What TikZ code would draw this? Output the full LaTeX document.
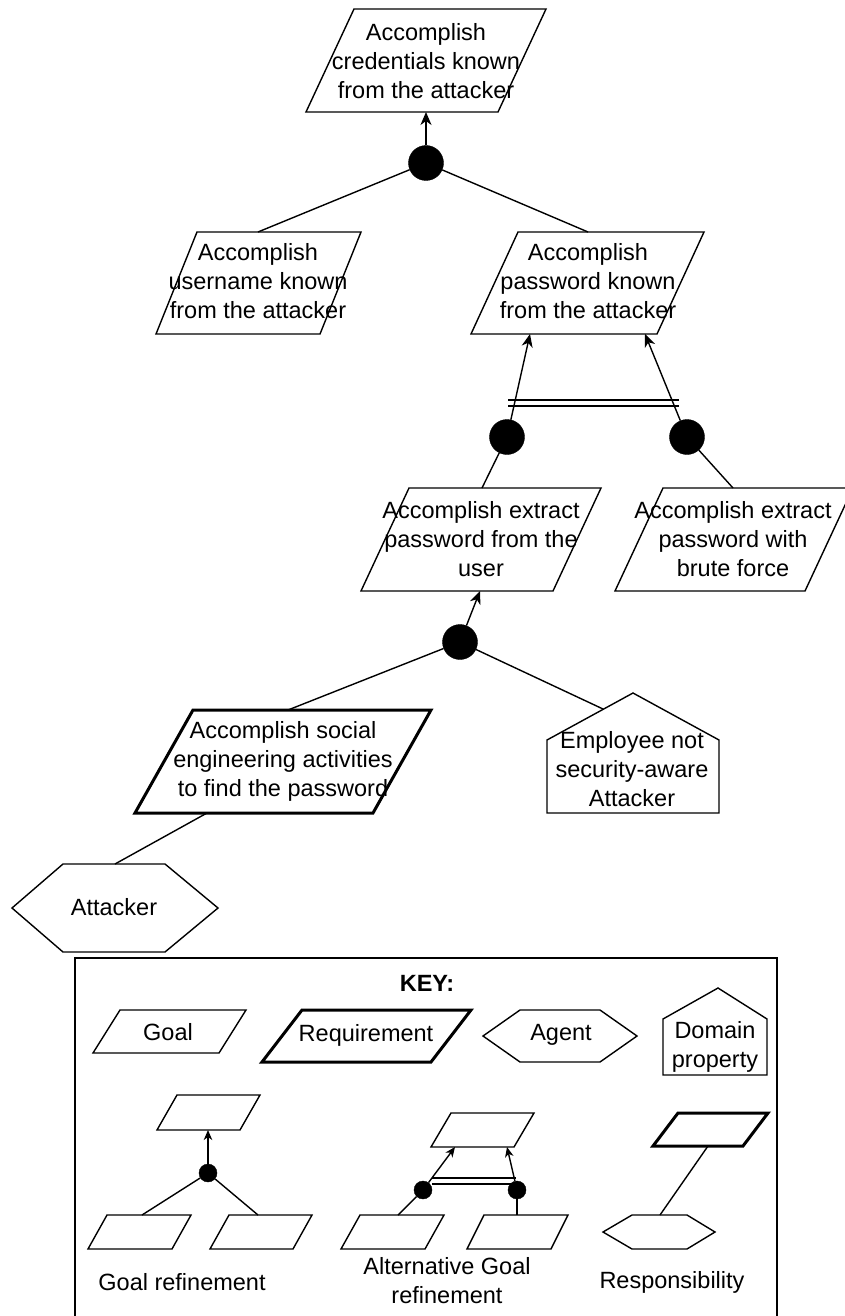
\documentclass[tikz,border=0pt]{standalone}
\usepackage{fontspec}
\setmainfont{Liberation Sans}
\usetikzlibrary{arrows.meta}

% parallelogram: [style]{bottom-left x}{bottom y}{width}{slant}{height}
\newcommand{\pgm}[6][]{\draw[gbox,#1] (#2,#3) -- ++(#4,0) -- ++(#5,-#6) -- ++(-#4,0) -- cycle;}
% hexagon: [style]{left point x}{top-left x}{top-right x}{right point x}{top y}{bottom y}
\newcommand{\hexg}[7][]{\draw[gbox,#1] (#2,{(#6+#7)/2}) -- (#3,#6) -- (#4,#6) -- (#5,{(#6+#7)/2}) -- (#4,#7) -- (#3,#7) -- cycle;}
% domain property: [style]{left x}{right x}{apex x}{apex y}{shoulder y}{bottom y}
\newcommand{\dprop}[7][]{\draw[gbox,#1] (#2,#7) -- (#2,#6) -- (#4,#5) -- (#3,#6) -- (#3,#7) -- cycle;}

\begin{document}
\begin{tikzpicture}[x=1pt,y=-1pt,
  every node/.style={font=\fontsize{23.5}{29}\selectfont, align=center, inner sep=0pt},
  gbox/.style={draw=black, line width=1.4pt, line join=miter},
  req/.style={line width=3pt},
  link/.style={draw=black, line width=1.4pt},
  arr/.style={link, -{Stealth[length=13pt,width=11pt,inset=4pt]}},
  karr/.style={link, -{Stealth[length=10pt,width=8.5pt,inset=3pt]}},
  andnode/.style={circle, fill=black, draw=black, minimum size=35pt, inner sep=0pt},
  kand/.style={andnode, minimum size=18pt},
]
\fill[white] (0,0) rectangle (845,1316);
\useasboundingbox (0,0) rectangle (845,1316);

% ---------- goal tree ----------
% top goal
\pgm{306}{112}{192}{48}{103}
\node (t0) at (426,61) {Accomplish\\credentials known\\from the attacker};
\coordinate (t0-in) at (426,112);
\node[andnode] (a0) at (426,163) {};
\draw[arr] (a0) -- (t0-in);

% username sub-goal
\pgm{156}{334}{164}{41}{102}
\node (u) at (258,281) {Accomplish\\username known\\from the attacker};
\coordinate (u-top) at (258,232);
\draw[link] (a0) -- (u-top);

% password sub-goal
\pgm{471}{334}{186}{47}{102}
\node (p) at (588,281) {Accomplish\\password known\\from the attacker};
\coordinate (p-top) at (588,232);
\draw[link] (a0) -- (p-top);
\coordinate (p-in1) at (530,334);
\coordinate (p-in2) at (645,334);

% alternative refinements
\node[andnode] (a1) at (507,437) {};
\node[andnode] (a2) at (687,437) {};
\draw[arr] (a1) -- (p-in1);
\draw[arr] (a2) -- (p-in2);
\coordinate (alt1a) at (508,400);
\coordinate (alt1b) at (679,400);
\coordinate (alt2a) at (508,406);
\coordinate (alt2b) at (679,406);
\draw[link] (alt1a) -- (alt1b);
\draw[link] (alt2a) -- (alt2b);

% extract from the user
\pgm{361}{591}{192}{48}{103}
\node (e1) at (481,539) {Accomplish extract\\password from the\\user};
\coordinate (e1-top) at (482,488);
\coordinate (e1-bot) at (480,591);
\draw[link] (a1) -- (e1-top);

% brute force
\pgm{615}{591}{190}{48}{103}
\node (e2) at (733,539) {Accomplish extract\\password with\\brute force};
\coordinate (e2-top) at (733,488);
\draw[link] (a2) -- (e2-top);

% refinement of the extraction goal
\node[andnode] (a3) at (460,642) {};
\draw[arr] (a3) -- (e1-bot);

% social engineering requirement
\pgm[req]{135}{813}{238}{58}{103}
\node (s) at (283,761) {Accomplish social\\engineering activities\\to find the password};
\coordinate (s-top) at (288,710);
\coordinate (s-bot) at (207,813);
\draw[link] (a3) -- (s-top);

% domain property
\dprop{547}{719}{633}{693}{740}{813}
\node (d) at (632,769) {Employee not\\security-aware\\Attacker};
\coordinate (d-roof) at (603,709);
\draw[link] (a3) -- (d-roof);

% agent
\hexg{12}{63}{165}{218}{864}{952}
\node (ag) at (114,907) {Attacker};
\coordinate (ag-top) at (115,864);
\draw[link] (s-bot) -- (ag-top);

% ---------- key ----------
\draw[gbox] (75,958) rectangle (777,1320);
\node[font=\fontsize{23.5}{29}\selectfont\bfseries] (key) at (427,983) {KEY:};

\pgm{93}{1053}{126}{27}{43}
\node (kg) at (168,1032) {Goal};

\pgm[req]{262}{1062}{169}{40}{52}
\node (kr) at (366,1035) {Requirement};

\hexg{483}{520}{600}{637}{1010}{1062}
\node (ka) at (561,1035) {Agent};

\dprop{663}{767}{718}{988}{1019}{1075}
\node (kd) at (715,1047) {Domain\\property};

% goal refinement
\pgm{157}{1130}{83}{20}{35}
\coordinate (gr-in) at (208,1130);
\node[kand] (gr-c) at (208,1173) {};
\draw[karr] (gr-c) -- (gr-in);
\pgm{88}{1249}{84}{19}{34}
\pgm{210}{1249}{83}{19}{34}
\coordinate (gr-l) at (142,1215);
\coordinate (gr-r) at (258,1215);
\draw[link] (gr-c) -- (gr-l);
\draw[link] (gr-c) -- (gr-r);
\node (gr-t) at (182,1282) {Goal refinement};

% alternative goal refinement
\pgm{431}{1147}{83}{20}{34}
\node[kand] (al-c1) at (423,1190) {};
\node[kand] (al-c2) at (517,1190) {};
\coordinate (al-in1) at (455,1147);
\coordinate (al-in2) at (507,1147);
\draw[karr] (al-c1) -- (al-in1);
\draw[karr] (al-c2) -- (al-in2);
\coordinate (al1a) at (432,1178);
\coordinate (al1b) at (516,1178);
\coordinate (al2a) at (432,1184);
\coordinate (al2b) at (516,1184);
\draw[link] (al1a) -- (al1b);
\draw[link] (al2a) -- (al2b);
\pgm{341}{1249}{84}{19}{34}
\pgm{467}{1249}{84}{17}{34}
\coordinate (al-l) at (398,1215);
\coordinate (al-r) at (517,1215);
\draw[link] (al-c1) -- (al-l);
\draw[link] (al-c2) -- (al-r);
\node (al-t) at (447,1281) {Alternative Goal\\refinement};

% responsibility
\pgm[req]{653}{1146}{90}{25}{33}
\hexg{603}{632}{687}{715}{1215}{1249}
\coordinate (rs-b) at (708,1146);
\coordinate (rs-h) at (660,1215);
\draw[link] (rs-b) -- (rs-h);
\node (rs-t) at (672,1282) {Responsibility};
\end{tikzpicture}
\end{document}
